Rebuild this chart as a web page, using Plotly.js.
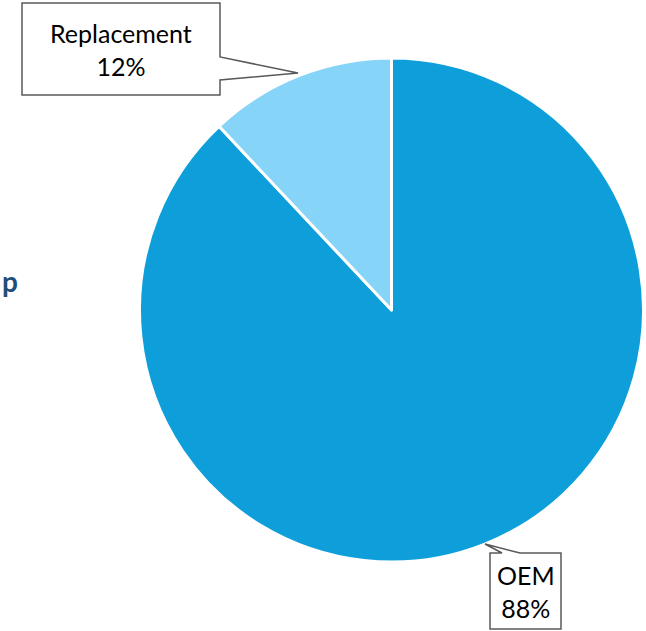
<!DOCTYPE html>
<html>
<head>
<meta charset="utf-8">
<script src="https://cdn.plot.ly/plotly-3.0.1.min.js"></script>
<style>html,body{margin:0;padding:0;background:#fff;}#chart{width:646px;height:631px;}</style>
</head>
<body>
<div id="chart"></div>
<script>
const labels = ["OEM", "Replacement"];
const values = [88, 12];
const colors = ["#0E9FDB", "#86D5F8"];

const W = 646, H = 631;
const px = x => x / W;
const py = y => 1 - y / H;

const trace = {
  type: "pie",
  labels: labels,
  values: values,
  sort: false,
  direction: "clockwise",
  rotation: 0,
  marker: {colors: colors, line: {color: "#ffffff", width: 3}},
  textinfo: "none",
  hoverinfo: "label+percent",
  domain: {x: [px(139.5), px(643.5)], y: [py(562), py(58)]},
  showlegend: false
};

function pct(i) {
  const tot = values.reduce((a, b) => a + b, 0);
  return Math.round(values[i] / tot * 100) + "%";
}

function path(points) {
  return "M " + points.map(p => px(p[0]).toFixed(5) + "," + py(p[1]).toFixed(5)).join(" L ") + " Z";
}

const lineStyle = {color: "#595959", width: 1.5};

const layout = {
  width: W, height: H,
  margin: {l: 0, r: 0, t: 0, b: 0},
  paper_bgcolor: "#ffffff",
  plot_bgcolor: "#ffffff",
  font: {family: "Lato, 'Open Sans', sans-serif", color: "#000000"},
  shapes: [
    {type: "path", xref: "paper", yref: "paper", fillcolor: "#ffffff", line: lineStyle,
     path: path([[22, 3], [220, 3], [220, 57], [298, 73], [220, 80], [220, 95], [22, 95]])},
    {type: "path", xref: "paper", yref: "paper", fillcolor: "#ffffff", line: lineStyle,
     path: path([[490, 553], [502, 553], [485, 544], [520, 553], [561, 553], [561, 629], [490, 629]])}
  ],
  annotations: [
    {xref: "paper", yref: "paper", x: px(121), y: py(50), xanchor: "center", yanchor: "middle",
     text: labels[1] + "<br>" + pct(1), showarrow: false, font: {size: 25, color: "#000000"}},
    {xref: "paper", yref: "paper", x: px(525.5), y: py(591), xanchor: "center", yanchor: "middle",
     text: labels[0] + "<br>" + pct(0), showarrow: false, font: {size: 25, color: "#000000"}},
    {xref: "paper", yref: "paper", x: 0, y: py(281), xanchor: "left", yanchor: "middle",
     text: "<b>p</b>", showarrow: false, font: {size: 28, color: "#1F4E79"}}
  ]
};

Plotly.newPlot("chart", [trace], layout, {staticPlot: true, displayModeBar: false});
</script>
</body>
</html>
